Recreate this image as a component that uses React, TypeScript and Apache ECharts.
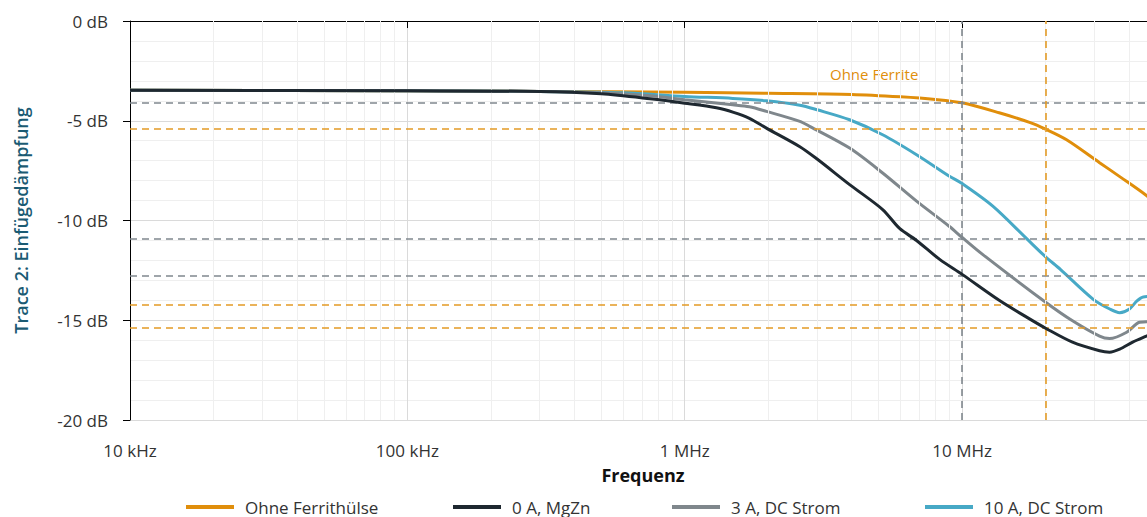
import React, { useEffect, useRef } from "react";
import * as echarts from "echarts";

// Frequency axis ticks (Hz) and their labels
const freqTicks = [1e4, 1e5, 1e6, 1e7];
const freqTickLabels = ["10 kHz", "100 kHz", "1 MHz", "10 MHz"];
const freqMin = 1e4;
const freqMax = 5e7;

// Insertion loss curves: [frequency in Hz, attenuation in dB]
const ohneFerrit: [number, number][] = [
  [1e4, -3.47], [1e5, -3.5], [3e5, -3.53], [1e6, -3.57], [2e6, -3.62],
  [4e6, -3.68], [6e6, -3.8], [8e6, -3.93], [1e7, -4.1], [1.36e7, -4.6],
  [1.75e7, -5.08], [2e7, -5.42], [2.38e7, -5.95], [3.13e7, -7.1],
  [3.7e7, -7.8], [4.62e7, -8.75], [5e7, -9.2],
];

const mgZn0A: [number, number][] = [
  [1e4, -3.47], [1e5, -3.5], [3e5, -3.53], [5e5, -3.65], [7.5e5, -3.9],
  [1e6, -4.12], [1.3e6, -4.35], [1.5e6, -4.58], [1.71e6, -4.88],
  [1.97e6, -5.37], [2.6e6, -6.3], [3e6, -6.92], [3.93e6, -8.2],
  [5.17e6, -9.45], [5.95e6, -10.4], [6.85e6, -11.0], [8.3e6, -11.95],
  [1e7, -12.7], [1.36e7, -14.0], [1.72e7, -14.87], [2e7, -15.4],
  [2.5e7, -16.1], [3.13e7, -16.53], [3.4e7, -16.6], [3.7e7, -16.45],
  [4.12e7, -16.1], [4.62e7, -15.8], [5e7, -15.6],
];

const dc3A: [number, number][] = [
  [1e4, -3.47], [1e5, -3.5], [3e5, -3.53], [5e5, -3.6], [7.5e5, -3.75],
  [1e6, -3.95], [1.49e6, -4.2], [1.71e6, -4.3], [1.97e6, -4.53],
  [2.6e6, -5.03], [2.82e6, -5.28], [3.93e6, -6.37], [5.17e6, -7.62],
  [6.85e6, -9.03], [9e6, -10.3], [1e7, -10.85], [1.185e7, -11.7],
  [2e7, -14.1], [2.5e7, -15.03], [3.13e7, -15.8], [3.4e7, -15.92],
  [3.92e7, -15.6], [4.36e7, -15.1], [4.62e7, -15.08], [5e7, -15.0],
];

const dc10A: [number, number][] = [
  [1e4, -3.47], [1e5, -3.5], [3e5, -3.53], [6e5, -3.6], [1e6, -3.78],
  [1.49e6, -3.88], [1.97e6, -4.0], [2.6e6, -4.22], [3e6, -4.45],
  [3.93e6, -4.95], [5.17e6, -5.7], [6.85e6, -6.7], [9e6, -7.78],
  [1e7, -8.15], [1.29e7, -9.28], [1.72e7, -10.95], [2e7, -11.82],
  [2.26e7, -12.45], [2.97e7, -13.95], [3.42e7, -14.45], [3.7e7, -14.62],
  [4.0e7, -14.45], [4.27e7, -14.03], [4.5e7, -13.83], [5e7, -13.8],
];

const seriesNames = ["Ohne Ferrithülse", "0 A, MgZn", "3 A, DC Strom", "10 A, DC Strom"];
const seriesColors = ["#e08e0b", "#1e2830", "#7f878c", "#47a9c6"];

// Dashed reference levels (dB) and frequencies (Hz)
const grayLevels = [-4.1, -10.9, -12.75];
const orangeLevels = [-5.4, -14.2, -15.4];
const grayFreqs = [1e7];
const orangeFreqs = [2e7];

const FONT = "Open Sans";
const GRAY_DASH = "#80888e";
const ORANGE_DASH = "#e39b26";

// minor vertical grid at 2..9 of each decade
const minorFreqs: number[] = [];
for (let d = 1e4; d < freqMax; d *= 10) {
  for (let m = 2; m <= 9; m++) {
    const v = m * d;
    if (v < freqMax) minorFreqs.push(v);
  }
}

const dash = [7, 5];

const buildOption = (): echarts.EChartsOption => {
  const lineSeries = [ohneFerrit, mgZn0A, dc3A, dc10A].map((data, i) => ({
    name: seriesNames[i],
    type: "line" as const,
    data,
    smooth: 0.3,
    showSymbol: false,
    symbol: "none",
    z: [2, 5, 4, 3][i],
    lineStyle: { color: seriesColors[i], width: 3 },
    itemStyle: { color: seriesColors[i] },
  }));

  const legendLefts = [181, 448, 667, 920];

  return {
    animation: false,
    backgroundColor: "#ffffff",
    textStyle: { fontFamily: FONT },
    grid: { left: 130, top: 21, right: 14, bottom: 97 },
    legend: seriesNames.map((name, i) => ({
      data: [name],
      left: legendLefts[i],
      top: 493,
      icon: "rect",
      itemWidth: 48,
      itemHeight: 4,
      selectedMode: false,
      textStyle: {
        fontFamily: FONT,
        fontSize: 17,
        lineHeight: 18,
        color: "#333",
        padding: [0, 0, 0, 6],
      },
    })),
    xAxis: {
      type: "log",
      logBase: 10,
      min: freqMin,
      max: freqMax,
      name: "Frequenz",
      nameLocation: "middle",
      nameGap: 46,
      nameTextStyle: { fontFamily: FONT, fontSize: 18, fontWeight: "bold", color: "#111" },
      axisLine: { show: true, lineStyle: { color: "#000", width: 1 } },
      axisTick: { show: true, length: 7, lineStyle: { color: "#000" } },
      axisLabel: {
        fontFamily: FONT,
        fontSize: 17,
        color: "#333",
        margin: 22,
        showMaxLabel: false,
        formatter: (v: number) => {
          const idx = freqTicks.findIndex((t) => Math.abs(t - v) / t < 1e-6);
          return idx >= 0 ? freqTickLabels[idx] : "";
        },
      },
      splitLine: { show: true, lineStyle: { color: "#dadada", width: 1 } },
    },
    yAxis: {
      type: "value",
      min: -20,
      max: 0,
      interval: 5,
      name: "Trace 2: Einfügedämpfung",
      nameLocation: "middle",
      nameGap: 100,
      nameTextStyle: { fontFamily: FONT, fontSize: 18, fontWeight: 600, color: "#1b5b73" },
      axisLine: { show: true, lineStyle: { color: "#000", width: 1 } },
      axisTick: { show: true, length: 7, lineStyle: { color: "#000" } },
      axisLabel: {
        fontFamily: FONT,
        fontSize: 17,
        color: "#333",
        margin: 22,
        formatter: (v: number) => `${v} dB`,
      },
      splitLine: { show: true, lineStyle: { color: "#dadada", width: 1 } },
      minorTick: { show: false, splitNumber: 5 },
      minorSplitLine: { show: true, lineStyle: { color: "#efefef", width: 1 } },
    },
    graphic: [
      {
        type: "text",
        left: 830,
        top: 66,
        style: { text: "Ohne Ferrite", fill: "#e08e0b", fontFamily: FONT, fontSize: 15 },
      },
    ],
    series: [
      {
        type: "line",
        name: "minorGrid",
        data: [],
        z: 0,
        silent: true,
        markLine: {
          silent: true,
          symbol: ["none", "none"],
          label: { show: false },
          lineStyle: { color: "#efefef", type: "solid", width: 1 },
          data: minorFreqs.map((v) => ({ xAxis: v })),
        },
      },
      {
        type: "line",
        name: "refLines",
        data: [],
        z: 1,
        silent: true,
        markLine: {
          silent: true,
          symbol: ["none", "none"],
          label: { show: false },
          data: [
            ...grayLevels.map((v) => ({ yAxis: v, lineStyle: { color: GRAY_DASH, type: dash, width: 1.6 } })),
            ...orangeLevels.map((v) => ({ yAxis: v, lineStyle: { color: ORANGE_DASH, type: dash, width: 1.6 } })),
            ...grayFreqs.map((v) => ({ xAxis: v, lineStyle: { color: GRAY_DASH, type: dash, width: 1.6 } })),
            ...orangeFreqs.map((v) => ({ xAxis: v, lineStyle: { color: ORANGE_DASH, type: dash, width: 1.6 } })),
          ],
        },
      },
      ...lineSeries,
    ] as any,
  };
};

export default function App() {
  const ref = useRef<HTMLDivElement>(null);
  useEffect(() => {
    if (!ref.current) return;
    const chart = echarts.init(ref.current, null, { renderer: "svg" });
    chart.setOption(buildOption());
    return () => chart.dispose();
  }, []);
  return (
    <div
      style={{
        position: "fixed",
        left: 0,
        top: 0,
        width: 1147,
        height: 517,
        overflow: "hidden",
        background: "#fff",
      }}
    >
      <div ref={ref} style={{ width: 1170, height: 517 }} />
    </div>
  );
}
